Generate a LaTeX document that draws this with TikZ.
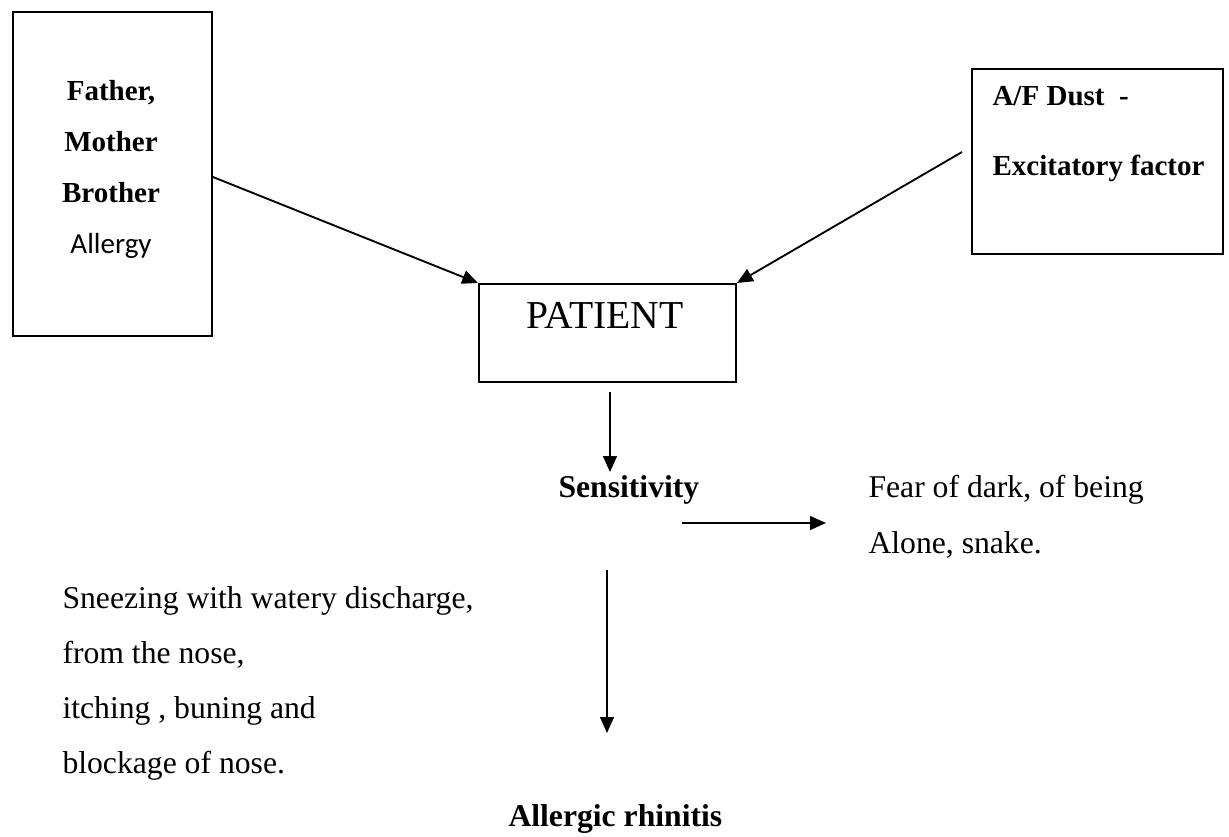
\documentclass[tikz,border=0pt]{standalone}
\usepackage{fontspec}
\setmainfont{Liberation Serif}
\newfontfamily\calibri{Carlito}
\usetikzlibrary{arrows.meta}
\begin{document}
\begin{tikzpicture}[x=0.379pt,y=-0.379pt,
  box/.style={draw, line width=0.75pt, inner sep=0pt},
  conn/.style={line width=0.7pt, -{Triangle[length=6pt,width=5.2pt]}},
  rtxt/.style={inner sep=0pt, font=\fontsize{12}{14}\selectfont},
  btxt/.style={inner sep=0pt, font=\fontsize{12}{14}\selectfont\bfseries},
  bstxt/.style={inner sep=0pt, font=\fontsize{11}{13}\selectfont\bfseries},
  ctxt/.style={inner sep=0pt, font=\fontsize{11}{13}\calibri},
]
\useasboundingbox (0,0) rectangle (1229,836);
% boxes
\node[box, anchor=north west, minimum width=75.4pt, minimum height=122.8pt] (fam) at (12,11) {};
\node[box, anchor=north west, minimum width=95.1pt, minimum height=70.1pt] (dust) at (971,68) {};
\node[box, anchor=north west, minimum width=97.4pt, minimum height=37.1pt] (pat) at (478,283) {};
% box texts
\node[bstxt, anchor=base] (t1) at (111,100) {Father,};
\node[bstxt, anchor=base] (t2) at (111,151) {Mother};
\node[bstxt, anchor=base] (t3) at (111,202) {Brother};
\node[ctxt, anchor=base] (t4) at (111,253) {Allergy};
\node[bstxt, anchor=base west] (d1) at (992,105) {A/F Dust\ \ -};
\node[bstxt, anchor=base west] (d2) at (992,175) {Excitatory factor};
\node[inner sep=0pt, font=\fontsize{15}{17}\selectfont, anchor=base] (pt) at (605,328) {PATIENT};
% other texts
\node[btxt, anchor=base west] (sens) at (558,497) {Sensitivity};
\node[rtxt, anchor=base west] (f1) at (868,497) {Fear of dark, of being};
\node[rtxt, anchor=base west] (f2) at (868,553) {Alone, snake.};
\node[rtxt, anchor=base west] (s1) at (62,608) {Sneezing with watery discharge,};
\node[rtxt, anchor=base west] (s2) at (62,663) {from the nose,};
\node[rtxt, anchor=base west] (s3) at (62,718) {itching , buning and};
\node[rtxt, anchor=base west] (s4) at (62,773) {blockage of nose.};
\node[btxt, anchor=base west] (ar) at (508,826) {Allergic rhinitis};
% coordinates
\coordinate (r1) at (962,152);
\coordinate (a1s) at (610,392);
\coordinate (a1e) at (610,472);
\coordinate (a2s) at (682,523);
\coordinate (a2e) at (826,523);
\coordinate (a3s) at (607,570);
\coordinate (a3e) at (607,733);
% connectors
\draw[conn] (fam.east |- 0,177) -- (pat.north west);
\draw[conn] (r1) -- (pat.north east);
\draw[conn] (a1s) -- (a1e);
\draw[conn] (a2s) -- (a2e);
\draw[conn] (a3s) -- (a3e);
\end{tikzpicture}
\end{document}
